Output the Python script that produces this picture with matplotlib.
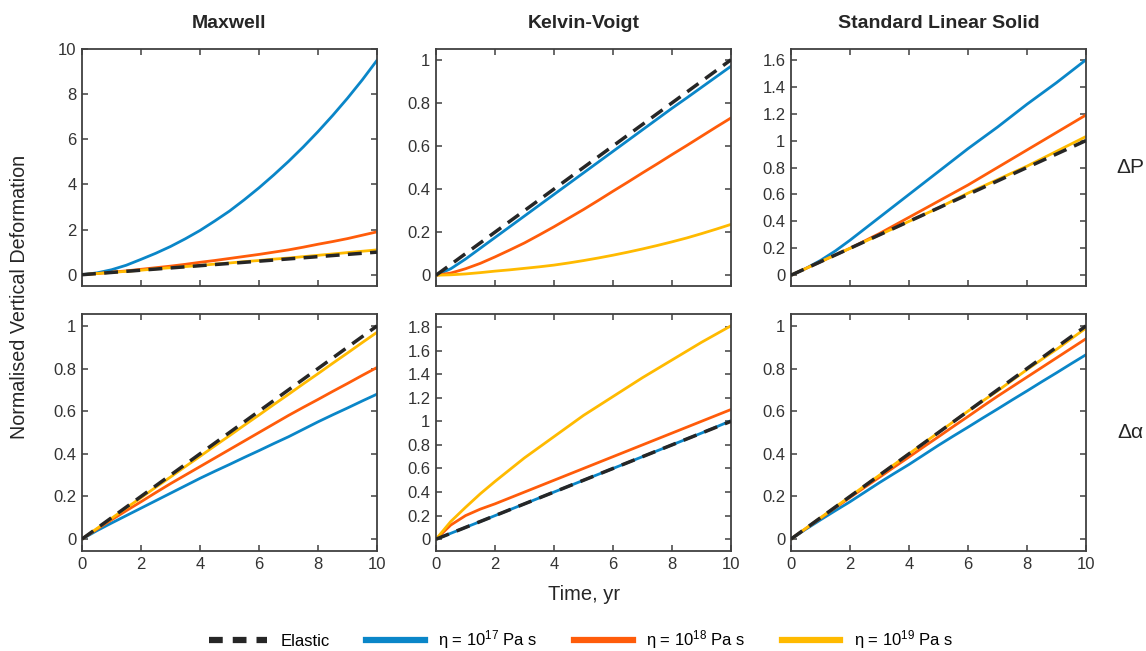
import matplotlib
matplotlib.use("Agg")
import matplotlib.pyplot as plt
from matplotlib.lines import Line2D
from matplotlib.ticker import FormatStrFormatter

plt.rcParams['font.family'] = ['Liberation Sans', 'DejaVu Sans']
plt.rcParams['mathtext.default'] = 'regular'

# time axis, yr (half-year samples)
time = [0, 0.5, 1, 1.5, 2, 2.5, 3, 3.5, 4, 4.5, 5,
        5.5, 6, 6.5, 7, 7.5, 8, 8.5, 9, 9.5, 10]

elastic = [0, 0.05, 0.1, 0.15, 0.2, 0.25, 0.3, 0.35, 0.4, 0.45, 0.5,
           0.55, 0.6, 0.65, 0.7, 0.75, 0.8, 0.85, 0.9, 0.95, 1.0]

# top row: delta P
max_p_17 = [0, 0.08, 0.22, 0.42, 0.68, 0.95, 1.25, 1.59, 1.96, 2.38, 2.82,
            3.32, 3.85, 4.42, 5.02, 5.66, 6.34, 7.06, 7.82, 8.63, 9.5]
max_p_18 = [0, 0.05, 0.11, 0.17, 0.24, 0.31, 0.38, 0.46, 0.55, 0.63, 0.72,
            0.81, 0.9, 1.0, 1.1, 1.22, 1.35, 1.47, 1.6, 1.75, 1.9]
max_p_19 = [0, 0.05, 0.1, 0.15, 0.2, 0.26, 0.31, 0.36, 0.41, 0.47, 0.52,
            0.58, 0.63, 0.69, 0.74, 0.8, 0.86, 0.92, 0.98, 1.04, 1.1]

kv_p_17 = [0, 0.03, 0.075, 0.125, 0.175, 0.225, 0.275, 0.325, 0.375, 0.425, 0.475,
           0.525, 0.575, 0.625, 0.675, 0.725, 0.775, 0.823, 0.872, 0.921, 0.97]
kv_p_18 = [0, 0.01, 0.03, 0.055, 0.085, 0.117, 0.15, 0.187, 0.225, 0.265, 0.305,
           0.347, 0.39, 0.432, 0.475, 0.517, 0.56, 0.602, 0.645, 0.688, 0.73]
kv_p_19 = [0, 0.002, 0.006, 0.012, 0.019, 0.025, 0.032, 0.039, 0.047, 0.057, 0.068,
           0.08, 0.093, 0.107, 0.122, 0.138, 0.155, 0.173, 0.193, 0.214, 0.236]

sls_p_17 = [0, 0.05, 0.11, 0.18, 0.26, 0.345, 0.43, 0.515, 0.6, 0.685, 0.77,
            0.855, 0.94, 1.02, 1.1, 1.185, 1.27, 1.35, 1.43, 1.515, 1.6]
sls_p_18 = [0, 0.05, 0.1, 0.15, 0.2, 0.255, 0.31, 0.37, 0.43, 0.49, 0.55,
            0.61, 0.67, 0.735, 0.8, 0.865, 0.93, 0.995, 1.06, 1.125, 1.19]
sls_p_19 = [0, 0.05, 0.1, 0.15, 0.2, 0.25, 0.3, 0.35, 0.4, 0.45, 0.5,
            0.555, 0.61, 0.66, 0.71, 0.76, 0.81, 0.865, 0.92, 0.975, 1.03]

# bottom row: delta alpha
max_a_17 = [0, 0.039, 0.075, 0.11, 0.145, 0.18, 0.215, 0.25, 0.285, 0.318, 0.35,
            0.383, 0.415, 0.448, 0.48, 0.515, 0.55, 0.583, 0.615, 0.648, 0.68]
max_a_18 = [0, 0.046, 0.09, 0.133, 0.175, 0.218, 0.26, 0.3, 0.34, 0.38, 0.42,
            0.46, 0.5, 0.54, 0.58, 0.618, 0.655, 0.693, 0.73, 0.768, 0.805]
max_a_19 = [0, 0.049, 0.097, 0.146, 0.194, 0.243, 0.291, 0.34, 0.388, 0.437, 0.485,
            0.534, 0.582, 0.631, 0.679, 0.728, 0.776, 0.825, 0.873, 0.922, 0.97]

kv_a_17 = [0, 0.05, 0.1, 0.15, 0.2, 0.25, 0.3, 0.35, 0.4, 0.45, 0.5,
           0.55, 0.6, 0.65, 0.7, 0.75, 0.8, 0.85, 0.9, 0.952, 1.005]
kv_a_18 = [0, 0.12, 0.2, 0.255, 0.3, 0.35, 0.4, 0.45, 0.5, 0.55, 0.6,
           0.65, 0.7, 0.75, 0.8, 0.85, 0.9, 0.95, 1.0, 1.05, 1.1]
kv_a_19 = [0, 0.15, 0.27, 0.385, 0.49, 0.59, 0.69, 0.78, 0.87, 0.96, 1.05,
           1.13, 1.21, 1.29, 1.37, 1.445, 1.52, 1.595, 1.67, 1.74, 1.81]

sls_a_17 = [0, 0.046, 0.09, 0.133, 0.175, 0.22, 0.265, 0.308, 0.35, 0.395, 0.44,
            0.483, 0.525, 0.568, 0.61, 0.653, 0.695, 0.738, 0.78, 0.823, 0.865]
sls_a_18 = [0, 0.049, 0.098, 0.147, 0.195, 0.243, 0.29, 0.338, 0.385, 0.433, 0.48,
            0.528, 0.575, 0.623, 0.67, 0.715, 0.76, 0.805, 0.85, 0.895, 0.94]
sls_a_19 = [0, 0.05, 0.1, 0.15, 0.2, 0.25, 0.3, 0.35, 0.4, 0.45, 0.5,
            0.55, 0.6, 0.648, 0.695, 0.745, 0.795, 0.843, 0.89, 0.94, 0.99]

titles = ['Maxwell', 'Kelvin-Voigt', 'Standard Linear Solid']
row_names = ['ΔP', 'Δα']
labels = ['Elastic', 'η = 10$^{17}$ Pa s', 'η = 10$^{18}$ Pa s', 'η = 10$^{19}$ Pa s']

panels = [
    [(max_p_17, max_p_18, max_p_19), (kv_p_17, kv_p_18, kv_p_19), (sls_p_17, sls_p_18, sls_p_19)],
    [(max_a_17, max_a_18, max_a_19), (kv_a_17, kv_a_18, kv_a_19), (sls_a_17, sls_a_18, sls_a_19)],
]
ylims = [[(-0.5, 10), (-0.05, 1.05), (-0.08, 1.68)],
         [(-0.056, 1.056), (-0.1, 1.91), (-0.056, 1.056)]]
yticks = [[[0, 2, 4, 6, 8, 10], [0, 0.2, 0.4, 0.6, 0.8, 1], [0, 0.2, 0.4, 0.6, 0.8, 1, 1.2, 1.4, 1.6]],
          [[0, 0.2, 0.4, 0.6, 0.8, 1], [0, 0.2, 0.4, 0.6, 0.8, 1, 1.2, 1.4, 1.6, 1.8], [0, 0.2, 0.4, 0.6, 0.8, 1]]]

colors = ['#0a86c8', '#ff5c0a', '#ffba00']
edge = '#404040'
dark = '#262626'

W, H = 1146, 651
fig = plt.figure(figsize=(W / 100, H / 100), dpi=100)

lefts = [82, 436, 791]
tops = [49, 314]
aw, ah = 295, 237

for r in range(2):
    for c in range(3):
        ax = fig.add_axes([lefts[c] / W, 1 - (tops[r] + ah) / H, aw / W, ah / H])
        for k in range(3):
            ax.plot(time, panels[r][c][k], color=colors[k], lw=2.0, zorder=2)
        ax.plot(time, elastic, color=dark, lw=2.5, ls=(0, (4, 2.4)), zorder=3)
        ax.set_xlim(0, 10)
        ax.set_ylim(*ylims[r][c])
        ax.set_xticks([0, 2, 4, 6, 8, 10])
        ax.set_yticks(yticks[r][c])
        ax.yaxis.set_major_formatter(FormatStrFormatter('%g'))
        ax.tick_params(direction='in', top=True, right=True, length=4, width=1.1,
                       color=edge, labelcolor='#333333', labelsize=12, pad=4)
        for s in ax.spines.values():
            s.set_color(edge)
            s.set_linewidth(1.3)
        if r == 0:
            ax.tick_params(labelbottom=False)
            ax.set_title(titles[c], fontsize=14, fontweight='bold', color=dark, pad=15)
        if c == 2:
            ax.text(1.149, 0.5, row_names[r], transform=ax.transAxes, fontsize=15,
                    color=dark, ha='center', va='center')

fig.text(20 / W, 1 - 297 / H, 'Normalised Vertical Deformation', rotation=90,
         ha='center', va='center', fontsize=14.2, color=dark)
fig.text(584 / W, 1 - 594 / H, 'Time, yr', ha='center', va='center',
         fontsize=14.5, color=dark)

# legend handles drawn thicker than the plotted lines, as in the figure
handles = [Line2D([], [], color=dark, lw=4.5, ls=(0, (2.2, 1.6)))]
handles += [Line2D([], [], color=col, lw=4.5) for col in colors]
fig.legend(handles, labels, loc='center', bbox_to_anchor=(581 / W, 1 - 640 / H),
           ncol=4, frameon=False, fontsize=12, handlelength=3.5,
           columnspacing=2.2, handletextpad=0.8)

fig.savefig('out.png', dpi=100)
